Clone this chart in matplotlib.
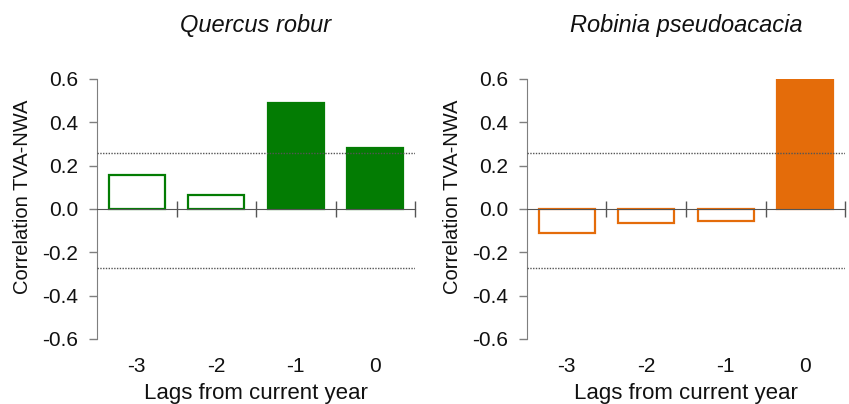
import matplotlib
matplotlib.use("Agg")
import matplotlib.pyplot as plt
from matplotlib.ticker import FixedLocator

plt.rcParams["font.family"] = ["Liberation Sans", "DejaVu Sans"]
plt.rcParams["axes.unicode_minus"] = False

lags = ["-3", "-2", "-1", "0"]
quercus = [0.155, 0.065, 0.487, 0.28]
quercus_sig = [False, False, True, True]
robinia = [-0.11, -0.065, -0.057, 0.597]
robinia_sig = [False, False, False, True]
upper_thr = 0.258
lower_thr = -0.272
yticks = [-0.6, -0.4, -0.2, 0.0, 0.2, 0.4, 0.6]

GREEN = "#037c03"
ORANGE = "#e46c0a"
AXIS = "#7f7f7f"
TEXT = "#111111"


def panel(ax, values, sig, color, title):
    x = list(range(len(values)))
    faces = [color if s else "white" for s in sig]
    ax.bar(x, values, width=0.7, color=faces, edgecolor=color, linewidth=1.6, zorder=2)
    ax.axhline(upper_thr, ls=(0, (1, 1)), color="#555555", lw=1.0, zorder=3)
    ax.axhline(lower_thr, ls=(0, (1, 1)), color="#555555", lw=1.0, zorder=3)

    ax.set_xlim(-0.5, len(values) - 0.5)
    ax.set_ylim(-0.6, 0.6)
    ax.set_yticks(yticks)
    ax.set_yticklabels([f"{v:.1f}" for v in yticks])
    ax.tick_params(axis="y", direction="out", length=6, width=1, color=AXIS,
                   labelsize=15, labelcolor=TEXT, pad=7.5)

    for s in ("top", "right"):
        ax.spines[s].set_visible(False)
    ax.spines["left"].set_color(AXIS)
    ax.spines["bottom"].set_color("#555555")
    ax.spines["bottom"].set_position(("data", 0))
    ax.spines["bottom"].set_bounds(-0.5, len(values) - 0.5)

    # boundary ticks crossing the zero axis
    ax.xaxis.set_major_locator(FixedLocator([i + 0.5 for i in x]))
    ax.set_xticklabels([])
    ax.tick_params(axis="x", direction="inout", length=11, width=1, color="#555555")

    for i, lab in zip(x, lags):
        ax.text(i, -0.127, lab, transform=ax.get_xaxis_transform(), ha="center",
                va="baseline", fontsize=15, color=TEXT)
    ax.text(0.5, -0.231, "Lags from current year", transform=ax.transAxes,
            ha="center", va="baseline", fontsize=16, color=TEXT)
    ax.text(0.5, 1.181, title, transform=ax.transAxes, ha="center", va="baseline",
            fontsize=17, style="italic", color=TEXT)
    ax.text(-0.234, 0.548, "Correlation TVA-NWA", transform=ax.transAxes,
            rotation=90, ha="center", va="center", fontsize=14.5, color=TEXT)


fig = plt.figure(figsize=(8.49, 4.04), dpi=100)
ax1 = fig.add_axes([0.1143, 0.1609, 0.3746, 0.6436])
ax2 = fig.add_axes([0.6207, 0.1609, 0.3746, 0.6436])

panel(ax1, quercus, quercus_sig, GREEN, "Quercus robur")
panel(ax2, robinia, robinia_sig, ORANGE, "Robinia pseudoacacia")

fig.savefig("out.png", dpi=100)
